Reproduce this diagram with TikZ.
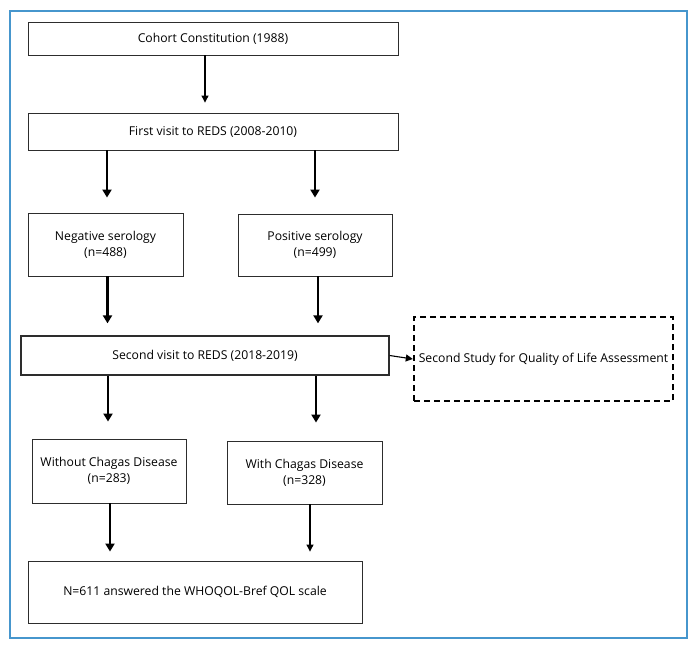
\documentclass[tikz,border=0pt]{standalone}
\usepackage{xcolor}
\usepackage{fontspec}
\setmainfont{Open Sans}
\usepackage{tikz}
\usetikzlibrary{arrows.meta,positioning,calc}
\definecolor{framblue}{RGB}{70,150,205}
\definecolor{boxgray}{RGB}{45,45,45}

\begin{document}
\begin{tikzpicture}[x=1pt,y=-1pt,
  box/.style={rectangle, draw=boxgray, line width=0.9pt, align=center, font=\fontsize{12.2}{16}\selectfont, inner sep=0pt},
  thinarr/.style={-{Triangle[length=7pt,width=7pt]}, line width=1.1pt},
  bigarr/.style={-{Triangle[length=8pt,width=9pt]}, line width=2.6pt},
  dashbox/.style={rectangle, draw, line width=2.4pt, dash pattern=on 6pt off 4pt, align=center, font=\fontsize{12.2}{16}\selectfont, inner sep=0pt}
]
  \useasboundingbox (0,0) rectangle (698,649);
  \node[draw=framblue, line width=1.8pt, minimum width=677pt, minimum height=627pt] (frame) at (348.5,324.5) {};

  \node[box, minimum width=370pt, minimum height=33pt] (cohort) at (213,38.5) {Cohort Constitution (1988)};
  \node[box, minimum width=370pt, minimum height=37pt] (first) at (213,131.5) {First visit to REDS (2008-2010)};

  \node[box, minimum width=155pt, minimum height=63pt] (neg) at (105.5,244.5) {Negative serology\\(n=488)};
  \node[box, minimum width=154pt, minimum height=62pt] (pos) at (315,245) {Positive serology\\(n=499)};

  \node[box, line width=1.3pt, minimum width=368pt, minimum height=39pt] (second) at (205,355.5) {Second visit to REDS (2018-2019)};
  \node[dashbox, minimum width=259pt, minimum height=84pt] (qol) at (543.5,359) {Second Study for Quality of Life Assessment};

  \node[box, minimum width=154pt, minimum height=64pt] (without) at (109,471) {Without Chagas Disease\\(n=283)};
  \node[box, minimum width=155pt, minimum height=63pt] (with) at (304.5,472.5) {With Chagas Disease\\(n=328)};

  \node[box, minimum width=334pt, minimum height=62pt] (final) at (195,592) {N=611 answered the WHOQOL-Bref QOL scale};

  \coordinate (cx) at (205,0);
  \coordinate (wox) at (108,0);
  \coordinate (wx) at (316,0);

  % connectors
  \draw[thinarr, shorten >=10pt] (cohort.south -| cx) -- (first.north -| cx);
  \draw[bigarr, shorten >=15pt] ([xshift=1.5pt]first.south -| neg.north) -- ([xshift=1.5pt]neg.north);
  \draw[bigarr, shorten >=16pt] (first.south -| pos.north) -- (pos.north);
  \draw[bigarr, shorten >=12pt] ([xshift=2pt]neg.south) -- ([xshift=2pt]neg.south |- second.north);
  \draw[bigarr, shorten >=12pt] ([xshift=3pt]pos.south) -- ([xshift=3pt]pos.south |- second.north);
  \draw[thinarr] (second.east) -- (qol.west);
  \draw[bigarr, shorten >=17pt] (second.south -| wox) -- (without.north -| wox);
  \draw[bigarr, shorten >=18pt] (second.south -| wx) -- (with.north -| wx);
  \draw[bigarr, shorten >=9pt] ([xshift=1pt]without.south) -- ([xshift=1pt]without.south |- final.north);
  \draw[thinarr, shorten >=9pt] ([xshift=5.5pt]with.south) -- ([xshift=5.5pt]with.south |- final.north);
\end{tikzpicture}
\end{document}
